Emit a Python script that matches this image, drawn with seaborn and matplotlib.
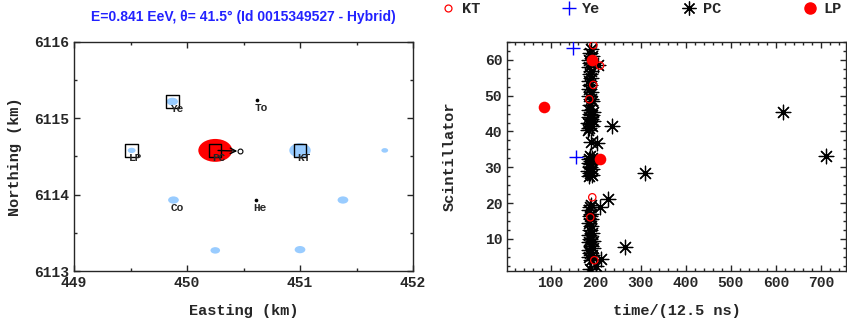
import numpy as np
import pandas as pd
import matplotlib
matplotlib.use("Agg")
import matplotlib.pyplot as plt
from matplotlib.patches import Ellipse
from matplotlib.lines import Line2D
from matplotlib.ticker import MultipleLocator
import seaborn as sns

sns.set_style("ticks")
plt.rcParams["font.family"] = ["Liberation Mono", "DejaVu Sans Mono"]
plt.rcParams["font.weight"] = "bold"

title_txt = "E=0.841 EeV, \u03b8= 41.5\u00b0 (Id 0015349527 - Hybrid)"

# station map: light blue signals (x, y, diameter km)
sig_x = [449.51, 449.87, 451.00, 449.88, 450.25, 451.00, 451.38, 451.75]
sig_y = [6114.58, 6115.22, 6114.58, 6113.93, 6113.27, 6113.28, 6113.93, 6114.58]
sig_d = [0.07, 0.10, 0.19, 0.095, 0.085, 0.095, 0.095, 0.06]

# hottest station (red)
hot_x, hot_y, hot_d = 450.25, 6114.58, 0.30

# named stations
st_name = ["LP", "Ye", "PC", "KT", "To", "He", "Co"]
st_x = [449.51, 449.87, 450.25, 451.00, 450.62, 450.61, 449.88]
st_y = [6114.58, 6115.22, 6114.58, 6114.58, 6115.24, 6113.93, 6113.93]
st_box = [True, True, True, True, False, False, False]
st_dot = [False, False, False, False, True, True, False]

# core direction arrow
arr_x0, arr_y0, arr_x1, arr_y1 = 450.25, 6114.58, 450.47, 6114.57

# scintillator times
kt_t = [194.7, 209.6, 194.7, 185.8, 192.4, 196.9, 188.0]
kt_s = [64.1, 58.4, 53.0, 49.0, 21.6, 4.0, 16.0]
ye_t = [149.6, 156.0]
ye_s = [63.4, 32.9]
lp_t = [84.2, 192.5, 210.0]
lp_s = [46.9, 60.1, 32.4]
pc_t = [187, 200, 190, 212, 186, 192, 188, 186, 194, 189, 185, 193, 188, 186, 191,
        187, 189, 186, 190, 187, 189, 186, 188, 190, 210, 228, 265,
        186, 192, 188, 184, 191, 187, 190, 185, 189, 186, 192, 188, 310, 712,
        190, 203,
        186, 192, 188, 184, 194, 189, 186, 191, 187, 193, 185, 236, 615,
        187, 190, 186, 189, 185, 188, 186, 190, 187, 189, 185, 205, 188, 186,
        191, 187, 189, 192, 184]
pc_s = [1.5, 2.5, 4.0, 4.3, 5.0, 5.5, 6.0, 7.0, 7.5, 8.0, 9.0, 9.5, 10.0, 11.0, 11.5,
        12.5, 13.5, 14.5, 15.5, 16.5, 17.0, 18.0, 19.0, 19.5, 19.0, 21.0, 7.7,
        27.5, 27.8, 28.5, 29.0, 29.5, 30.2, 30.8, 31.3, 31.8, 32.3, 32.7, 33.0, 28.3, 33.0,
        37.0, 36.7,
        41.0, 41.5, 42.0, 42.5, 43.0, 43.5, 44.0, 44.5, 45.0, 45.5, 46.0, 41.5, 45.5,
        47.5, 49.0, 50.0, 51.0, 52.0, 53.0, 54.0, 55.0, 56.0, 57.0, 58.0, 58.5, 59.0, 60.0,
        61.0, 62.0, 63.0, 48.5, 40.5]

blue_sig = "#99ccff"
star = (8, 2, 0)

fig = plt.figure(figsize=(8.47, 3.26), dpi=100)
ax1 = fig.add_axes([0.0874, 0.1687, 0.4002, 0.7025])
ax2 = fig.add_axes([0.5986, 0.1687, 0.4002, 0.7025])

# --- left: station map ---
for x, y, d in zip(sig_x, sig_y, sig_d):
    ax1.add_patch(Ellipse((x, y), d, d, color=blue_sig, lw=0, zorder=1))
ax1.add_patch(Ellipse((hot_x, hot_y), hot_d, hot_d, color="red", lw=0, zorder=2))

df_st = pd.DataFrame({"x": st_x, "y": st_y, "name": st_name, "box": st_box, "dot": st_dot})
sns.scatterplot(data=df_st[df_st["box"]], x="x", y="y", marker="s", s=80,
                facecolor="none", edgecolor="black", linewidth=1.0, ax=ax1, zorder=4)
sns.scatterplot(data=df_st[df_st["dot"]], x="x", y="y", marker="o", s=7,
                color="black", linewidth=0, ax=ax1, zorder=4)
for _, r in df_st.iterrows():
    ax1.text(r["x"] + 0.035, r["y"] - 0.1, r["name"], fontsize=8, fontweight="bold",
             ha="center", va="center", zorder=5)

ax1.annotate("", xy=(arr_x1, arr_y1), xytext=(arr_x0, arr_y0),
             arrowprops=dict(arrowstyle="->", color="black", lw=1.0), zorder=5)
ax1.plot([arr_x1], [arr_y1], marker="o", ms=3.5, mfc="none", mec="black", mew=0.8, zorder=5)

ax1.set_xlim(449, 452)
ax1.set_ylim(6113, 6116)
ax1.xaxis.set_major_locator(MultipleLocator(1))
ax1.yaxis.set_major_locator(MultipleLocator(1))
ax1.xaxis.set_minor_locator(MultipleLocator(0.5))
ax1.yaxis.set_minor_locator(MultipleLocator(0.5))
ax1.yaxis.set_major_formatter(matplotlib.ticker.FormatStrFormatter("%d"))
ax1.set_xlabel("Easting (km)", fontsize=11, fontweight="bold", labelpad=10)
ax1.set_ylabel("Northing (km)", fontsize=11, fontweight="bold", labelpad=9)
ax1.set_title(title_txt, family=["Liberation Sans", "DejaVu Sans"], fontsize=10,
              fontweight="bold", color="#2222ff", pad=15)

# --- right: scintillator times ---
sns.scatterplot(x=pc_t, y=pc_s, marker=star, s=110, color="black", linewidth=0.9,
                ax=ax2, zorder=3)
sns.scatterplot(x=pc_t, y=pc_s, marker="o", s=4, color="black", linewidth=0,
                ax=ax2, zorder=3)
sns.scatterplot(x=kt_t, y=kt_s, marker="o", s=28, facecolor="none", edgecolor="red",
                linewidth=0.9, ax=ax2, zorder=4)
sns.scatterplot(x=ye_t, y=ye_s, marker="+", s=110, color="blue", linewidth=1.0,
                ax=ax2, zorder=4)
sns.scatterplot(x=lp_t, y=lp_s, marker="o", s=70, color="red", linewidth=0,
                ax=ax2, zorder=5)

ax2.set_xlim(3, 756)
ax2.set_ylim(1, 65)
ax2.xaxis.set_major_locator(MultipleLocator(100))
ax2.xaxis.set_minor_locator(MultipleLocator(20))
ax2.yaxis.set_major_locator(MultipleLocator(10))
ax2.yaxis.set_minor_locator(MultipleLocator(2.5))
ax2.set_xlabel("time/(12.5 ns)", fontsize=11, fontweight="bold", labelpad=10)
ax2.set_ylabel("Scintillator", fontsize=11, fontweight="bold", labelpad=20)

for ax in (ax1, ax2):
    ax.tick_params(which="both", direction="in", top=True, right=True,
                   labelsize=10.5, width=1.0)
    ax.tick_params(which="major", length=4)
    ax.tick_params(which="minor", length=2)
    for sp in ax.spines.values():
        sp.set_linewidth(1.0)
        sp.set_visible(True)
    for lab in ax.get_xticklabels() + ax.get_yticklabels():
        lab.set_fontweight("bold")

handles = [
    Line2D([], [], ls="none", marker="o", ms=5, mfc="none", mec="red", mew=0.9),
    Line2D([], [], ls="none", marker="+", ms=10, color="blue", mew=1.0),
    Line2D([], [], ls="none", marker=star, ms=10, color="black", mew=0.9),
    Line2D([], [], ls="none", marker="o", ms=8, color="red"),
]
fig.legend(handles, ["KT", "Ye", "PC", "LP"], loc="upper center",
           bbox_to_anchor=(0.757, 1.035), ncol=4, frameon=False, columnspacing=5.3,
           handlelength=1.0, handletextpad=0.4, prop={"weight": "bold", "size": 11})

fig.savefig("out.png", dpi=100)
